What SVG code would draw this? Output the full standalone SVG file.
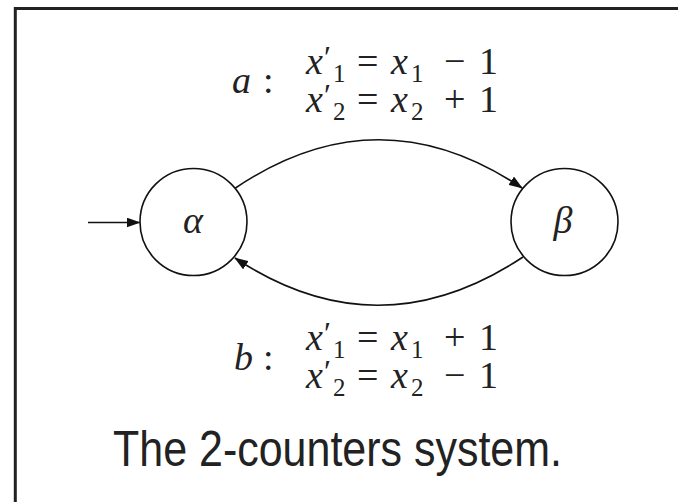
<svg xmlns="http://www.w3.org/2000/svg" width="678" height="502" viewBox="0 0 678 502">
<style>
.m{font-family:"Liberation Serif","DejaVu Serif",serif;font-size:38px;fill:#222}
.i{font-style:italic}
.s{font-size:25px}
.p{font-size:32px}
.edge{fill:none;stroke:#111;stroke-width:1.6}
.node{fill:#fff;stroke:#111;stroke-width:1.6}
.cap{font-family:"Liberation Sans","DejaVu Sans",sans-serif;font-size:50px;fill:#222}
</style>
<defs>
<marker id="ah" markerUnits="userSpaceOnUse" markerWidth="14" markerHeight="10" refX="13" refY="5" orient="auto">
<path d="M0,0 L14,5 L0,10 Z" fill="#111"/>
</marker>
</defs>
<rect width="678" height="502" fill="#fff"/>
<path d="M15.3,502 V8.5 H678" fill="none" stroke="#222" stroke-width="3"/>
<g id="connectors">
<path class="edge" d="M88,222.5 H139.5" marker-end="url(#ah)"/>
<path class="edge" d="M234,189 Q378,91 522,188" marker-end="url(#ah)"/>
<path class="edge" d="M523,257 Q378,353 235,258" marker-end="url(#ah)"/>
</g>
<g id="alpha">
<circle class="node" cx="193.5" cy="222" r="53.5"/>
<text class="m i" x="193" y="233" font-size="40" text-anchor="middle">α</text>
</g>
<g id="beta">
<circle class="node" cx="564.5" cy="222" r="53.5"/>
<text class="m i" x="563" y="233" text-anchor="middle">β</text>
</g>
<g id="label-a">
<text class="m" x="232" y="93"><tspan class="i">a</tspan><tspan x="263">:</tspan></text>
<text class="m" x="306" y="74"><tspan class="i">x</tspan><tspan class="p" x="324" dy="-6">′</tspan><tspan class="s" x="333" dy="14">1</tspan><tspan x="357" dy="-8">=</tspan><tspan class="i" x="391">x</tspan><tspan class="s" x="411" dy="8">1</tspan><tspan x="444" dy="-8">−</tspan><tspan x="479">1</tspan></text>
<text class="m" x="306" y="112"><tspan class="i">x</tspan><tspan class="p" x="324" dy="-6">′</tspan><tspan class="s" x="333" dy="14">2</tspan><tspan x="357" dy="-8">=</tspan><tspan class="i" x="391">x</tspan><tspan class="s" x="411" dy="8">2</tspan><tspan x="444" dy="-8">+</tspan><tspan x="479">1</tspan></text>
</g>
<g id="label-b">
<text class="m" x="234" y="370"><tspan class="i">b</tspan><tspan x="263">:</tspan></text>
<text class="m" x="306" y="350"><tspan class="i">x</tspan><tspan class="p" x="324" dy="-6">′</tspan><tspan class="s" x="333" dy="14">1</tspan><tspan x="357" dy="-8">=</tspan><tspan class="i" x="391">x</tspan><tspan class="s" x="411" dy="8">1</tspan><tspan x="444" dy="-8">+</tspan><tspan x="479">1</tspan></text>
<text class="m" x="306" y="388"><tspan class="i">x</tspan><tspan class="p" x="324" dy="-6">′</tspan><tspan class="s" x="333" dy="14">2</tspan><tspan x="357" dy="-8">=</tspan><tspan class="i" x="391">x</tspan><tspan class="s" x="411" dy="8">2</tspan><tspan x="444" dy="-8">−</tspan><tspan x="479">1</tspan></text>
</g>
<text class="cap" x="113" y="466" textLength="449" lengthAdjust="spacingAndGlyphs">The 2-counters system.</text>
</svg>
